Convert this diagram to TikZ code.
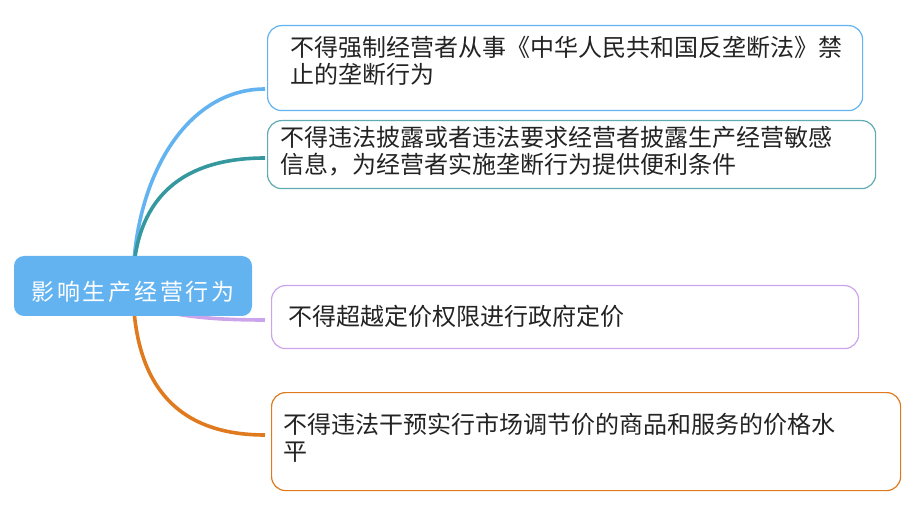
\documentclass[tikz,border=0pt]{standalone}
\usepackage{fontspec}
\setmainfont{Noto Sans CJK SC}
\usetikzlibrary{backgrounds}

\definecolor{rootblue}{RGB}{99,179,241}
\definecolor{tealline}{RGB}{52,152,158}
\definecolor{tealbox}{RGB}{96,172,178}
\definecolor{lilac}{RGB}{204,164,236}
\definecolor{orangeline}{RGB}{224,122,31}
\definecolor{txtgray}{RGB}{35,35,35}

\begin{document}
\begin{tikzpicture}[x=1pt,y=-1pt,
    topic/.style={draw=#1,line width=1.2pt,rounded corners=14pt,fill=white,anchor=north west,inner sep=0pt},
    branch/.style={line width=3.6pt,draw=#1},
    itemtext/.style={anchor=north west,inner sep=0pt,align=left,text=txtgray,font=\fontsize{24}{27}\selectfont}]

    \useasboundingbox (0,0) rectangle (924,529);

    % central topic
    \node[fill=rootblue,rounded corners=10pt,minimum width=238pt,minimum height=60pt,inner sep=0pt,
          text=white,text height=30pt,text depth=0pt,font=\fontsize{23}{27}\selectfont\addfontfeature{LetterSpace=12}]
          (root) at (133,286) {影响生产经营行为};

    % boxes
    \node[topic=rootblue,minimum width=595pt,minimum height=85pt] (b1) at (267,25) {};
    \node[topic=tealbox,minimum width=608pt,minimum height=68pt] (b2) at (267,120) {};
    \node[topic=lilac,minimum width=587pt,minimum height=63pt] (b3) at (271,285) {};
    \node[topic=orangeline,minimum width=629pt,minimum height=98pt] (b4) at (271,392) {};

    \node[itemtext] (t1) at (290,36) {不得强制经营者从事《中华人民共和国反垄断法》禁\\止的垄断行为};
    \node[itemtext] (t2) at (280,126) {不得违法披露或者违法要求经营者披露生产经营敏感\\信息，为经营者实施垄断行为提供便利条件};
    \node[itemtext] (t3) at (288,305) {不得超越定价权限进行政府定价};
    \node[itemtext] (t4) at (283,413) {不得违法干预实行市场调节价的商品和服务的价格水\\平};

    % branches behind the central topic
    \begin{scope}[on background layer]
        \draw[branch=rootblue] (root.center) .. controls +(0,-106) and +(-80,0) .. ([xshift=-2pt,yshift=-64pt]b1.north west);
        \draw[branch=tealline] (root.center) .. controls +(0,-76) and +(-95,0) .. ([xshift=-2pt,yshift=-38pt]b2.north west);
        \draw[branch=lilac] (root.center) .. controls +(0,23) and +(-88,0) .. ([xshift=-6pt,yshift=-35pt]b3.north west);
        \draw[branch=orangeline] (root.center) .. controls +(0,99) and +(-88,0) .. ([xshift=-6pt,yshift=-43pt]b4.north west);
    \end{scope}
\end{tikzpicture}
\end{document}
